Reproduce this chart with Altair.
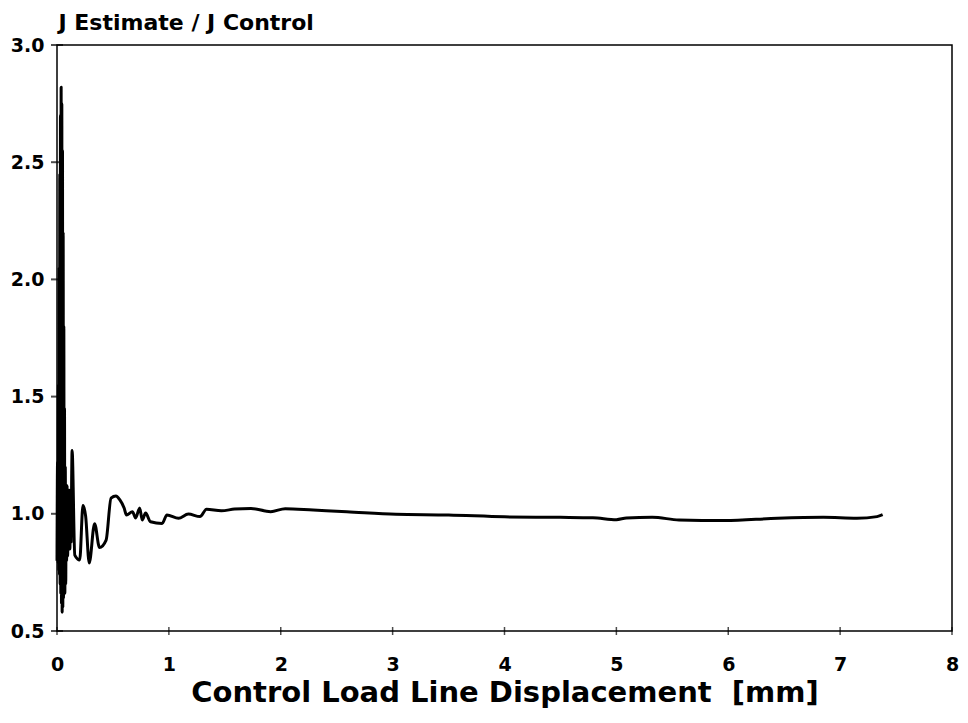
import altair as alt
import pandas as pd

# Control load line displacement [mm] and J estimate / J control ratio
disp_mm = [
    0.000, 0.005, 0.010, 0.013, 0.016, 0.019, 0.022, 0.025, 0.028, 0.031,
    0.034, 0.037, 0.040, 0.043, 0.046, 0.049, 0.052, 0.055, 0.058, 0.061,
    0.064, 0.067, 0.070, 0.074, 0.078, 0.082, 0.086, 0.090, 0.095, 0.100,
    0.105, 0.110, 0.115, 0.120, 0.126, 0.131, 0.135,
    0.159, 0.203, 0.232, 0.256, 0.288, 0.336, 0.380, 0.439, 0.483, 0.527,
    0.562, 0.600, 0.621, 0.674, 0.703, 0.739, 0.762, 0.792, 0.836, 0.939,
    0.983, 1.086, 1.174, 1.278, 1.336, 1.469, 1.587, 1.734, 1.910, 2.040,
    2.290, 2.590, 3.030, 3.500, 4.000, 4.500, 4.790, 5.000, 5.090, 5.320,
    5.560, 5.970, 6.440, 6.850, 7.150, 7.330, 7.380,
]
j_ratio = [
    0.80, 1.22, 0.79, 1.55, 0.76, 2.05, 0.74, 2.45, 0.70, 2.70,
    0.66, 2.82, 0.62, 2.75, 0.58, 2.55, 0.60, 2.20, 0.64, 1.80,
    0.68, 1.45, 0.66, 1.20, 0.70, 1.10, 0.80, 1.12, 0.82, 1.05,
    0.90, 1.10, 0.85, 1.02, 0.88, 1.15, 1.27,
    0.824, 0.803, 1.035, 0.990, 0.790, 0.958, 0.856, 0.888, 1.067, 1.076,
    1.059, 1.025, 0.995, 1.009, 0.982, 1.025, 0.974, 1.003, 0.966, 0.959,
    0.995, 0.981, 0.999, 0.988, 1.019, 1.013, 1.020, 1.023, 1.009, 1.022,
    1.016, 1.009, 0.998, 0.995, 0.987, 0.985, 0.983, 0.975, 0.982, 0.985,
    0.974, 0.971, 0.981, 0.985, 0.981, 0.988, 0.996,
]
y_tick_values = [0.5, 1.0, 1.5, 2.0, 2.5, 3.0]
x_tick_values = [0, 1, 2, 3, 4, 5, 6, 7, 8]

curve = pd.DataFrame({"x": disp_mm, "y": j_ratio, "i": list(range(len(disp_mm)))})
yticks = pd.DataFrame({"x": [0] * len(y_tick_values), "y": y_tick_values})
xticks = pd.DataFrame({"x": x_tick_values, "y": [0.5] * len(x_tick_values)})

FONT = "DejaVu Sans"
xscale = alt.Scale(domain=[0, 8], nice=False, zero=False)
yscale = alt.Scale(domain=[0.5, 3.0], nice=False, zero=False)

xaxis = alt.Axis(
    title="Control Load Line Displacement \u00a0[mm]",
    values=x_tick_values, format="d", ticks=False, tickSize=0, domain=False, grid=False,
    labelPadding=24, labelFont=FONT, labelFontSize=19, labelFontWeight="bold",
    labelColor="black", labelFlush=False, labelOverlap=False,
    titleFont=FONT, titleFontSize=29, titleFontWeight="bold", titleColor="black",
    titleBaseline="alphabetic", titleY=70,
)
yaxis = alt.Axis(
    title="J Estimate / J Control",
    values=y_tick_values, format=".1f", ticks=False, tickSize=0, domain=False, grid=False,
    labelPadding=13, labelFont=FONT, labelFontSize=19, labelFontWeight="bold",
    labelColor="black", labelOverlap=False,
    titleFont=FONT, titleFontSize=22, titleFontWeight="bold", titleColor="black",
    titleAngle=0, titleAlign="left", titleBaseline="alphabetic", titleX=1, titleY=-16,
)

line = alt.Chart(curve).mark_line(
    color="black", strokeWidth=3, strokeJoin="round", interpolate="monotone"
).encode(
    x=alt.X("x:Q", scale=xscale, axis=xaxis),
    y=alt.Y("y:Q", scale=yscale, axis=yaxis),
    order="i:Q",
)
ytick_layer = alt.Chart(yticks).mark_tick(orient="horizontal", size=12, thickness=2, color="black").encode(
    x=alt.X("x:Q", scale=xscale, axis=xaxis),
    y=alt.Y("y:Q", scale=yscale, axis=yaxis),
)
xtick_layer = alt.Chart(xticks).mark_tick(orient="vertical", size=8, thickness=1.5, color="black").encode(
    x=alt.X("x:Q", scale=xscale, axis=xaxis),
    y=alt.Y("y:Q", scale=yscale, axis=yaxis),
)

chart = alt.layer(line, ytick_layer, xtick_layer).properties(
    width=895,
    height=586,
    autosize=alt.AutoSizeParams(type="none"),
    padding={"left": 49, "top": 37, "right": 8, "bottom": 84},
    background="white",
).configure_view(stroke="black", strokeWidth=1.5)

chart.save("out.html", embed_options={"renderer": "svg", "actions": False})
